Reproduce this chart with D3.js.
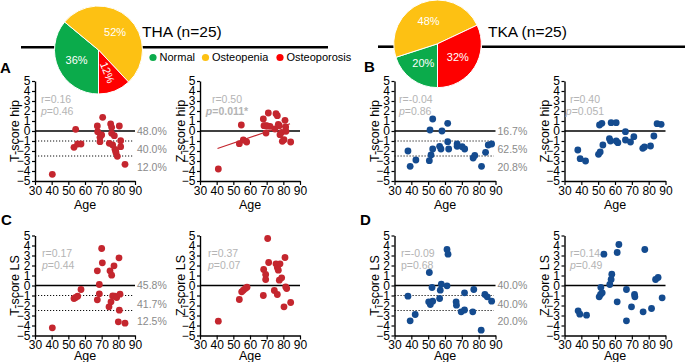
<!DOCTYPE html>
<html><head><meta charset="utf-8">
<script src="https://cdn.jsdelivr.net/npm/d3@7"></script>
<style>body{margin:0;background:#fff} text{font-family:"Liberation Sans",Arial,Helvetica,sans-serif}</style>
</head><body><svg id="c" width="685" height="362"></svg>
<script>
// ---------------- data ----------------
const pieCategories = ["Normal", "Osteopenia", "Osteoporosis"];
const thaPie = [36, 52, 12];
const tkaPie = [20, 48, 32];
const xTicks = [30, 40, 50, 60, 70, 80, 90];
const yTicks = [-5, -4, -3, -2, -1, 0, 1, 2, 3, 4, 5];

// A: THA hip
const thaHipTAge = [40.4,54.4,53.4,55.6,57.6,70.6,67.4,67.6,69,69,70,75.4,76,76,77.6,74.6,76.6,78,78.6,79.4,80.6,81.4,81.4,84,78.4];
const thaHipT    = [-4.33,0.17,-1.63,-1.3,-1.3,1.37,0.5,-0.07,-1.07,-0.63,-0.4,0.7,0.37,-0.23,-0.47,-1.23,-1.4,-1.83,-2.17,-2.53,0.5,-0.97,-1.57,-3.33,-2.0];
const thaHipZAge = [41,54.8,53.6,56,58,68,68.4,69.6,69.6,71,72,75.6,76.4,75,77,77.6,78,79,79.4,80.4,81,81.4,81.6,84.4,70.4];
const thaHipZ    = [-3.8,0.6,-1.27,-0.9,-1.1,1.2,0.53,0.53,-0.2,1.8,0.47,1.73,1.53,0.2,0.67,0.53,-0.37,-0.13,-1.03,-0.87,1.07,0.4,-0.03,-1.1,0.5];
const thaHipZRegAge = [40.5, 84];
const thaHipZRegVal = [-1.75, 0.72];
// C: THA lumbar spine
const thaLsTAge = [40.4,53.4,54.4,55.6,57.6,67.4,67.4,68.6,68.6,70,70.4,75,76,74.4,75.6,76.6,77.4,78,79,80.4,81,80.6,80,84];
const thaLsT    = [-4.23,-1.3,-1.2,-1.07,-0.4,1.47,-1.43,0.1,-0.83,3.7,2.27,1.47,1.03,-2.13,-1.63,-1.05,1.97,-1.07,-1.2,2.77,-0.87,-2.47,-3.63,-3.77];
const thaLsZAge = [41,53.6,55,56,57.2,58.2,68.2,68,69.4,69.4,70.6,71.2,75.6,76.4,77,78,77.6,79,74.6,76.4,80.4,81,81.4,82,84.4];
const thaLsZ    = [-3.57,-1.4,-0.63,-0.47,-0.3,-0.17,1.6,-1,1.1,0.6,4.7,2.3,2.17,1.8,1.53,2.17,0.53,0.77,-0.5,-0.9,-2.13,2.8,-0.13,-0.3,-1.7];
// B: TKA hip
const tkaHipTAge = [38,39.3,42.7,50.7,51.7,52.7,51.1,52.7,56.8,57.6,58.2,61.6,61.6,62.2,67.2,67.2,70.2,71.7,76.7,77.7,81.7,84.1,85.7,87.7];
const tkaHipT    = [-2,-3.53,-2.9,-2.97,-2.4,-1.8,0.1,1.2,-1.53,-1.8,0,0.77,-1.07,-1.8,-1.3,-1.53,-1.57,-1.8,-2.7,-2.45,-3.53,-2.13,-1.4,-1.3];
const tkaHipZAge = [37.9,39.3,42.5,50.2,51.2,52.8,50.8,52.2,57.7,56.7,57.3,60.7,60.7,61.7,66.2,66.2,69.2,71.2,76.5,77.5,81.1,83.1,85,87.4];
const tkaHipZ    = [-1.9,-2.77,-3,-2.33,-2.1,-1.4,0.6,0.77,0.83,-0.77,-1,0.83,-1,-1.17,-0.07,-0.9,-1.1,-0.57,-1.73,-1.6,-1.5,-0.5,0.73,0.67];
// D: TKA lumbar spine
const tkaLsTAge = [38,39.3,42.3,50.7,50.3,51.3,52.7,52.3,56.8,57.2,57.8,61.2,61.8,61.2,66.6,66.8,69.6,71.6,71.6,77.1,76.5,81.5,83.7,85.1,87.7];
const tkaLsT    = [-1.07,-3.53,-2.9,1.3,-1.63,-1.9,-1.57,-0.2,-1.3,-0.47,0.13,3.6,3.13,-0.03,-1.63,-1.97,-2.63,-2.45,-0.73,-0.4,-2.63,-4.47,-0.9,-1.13,-1.57];
const tkaLsZAge = [38.1,39.1,43.1,50.6,51.4,52.4,51.6,53.4,56.9,57.7,58.1,61.3,62.3,61.3,66.8,66.8,69.8,71.6,71.8,76.7,77.7,81.7,84.1,85.6,88];
const tkaLsZ    = [-2.53,-2.87,-2.97,-1.13,-0.9,-0.73,-0.2,3.13,0.1,0.6,1.13,3.3,4.1,-1.63,-0.4,-3.53,-2.13,-0.9,-1.13,-2.63,3.6,-2.3,0.6,0.8,-1.23];

const thaHipTPct = ["48.0%", "40.0%", "12.0%"];
const thaLsTPct  = ["45.8%", "41.7%", "12.5%"];
const tkaHipTPct = ["16.7%", "62.5%", "20.8%"];
const tkaLsTPct  = ["40.0%", "40.0%", "20.0%"];
const pctLevels = [0, -1.85, -3.6];
const thresholds = [-1, -2.5];

// ---------------- layout ----------------
const svg = d3.select("#c");
const pieColors = d3.scaleOrdinal().domain(pieCategories).range(["#0bab4b", "#fdc113", "#fe0000"]);
const RED = "#c4262e", BLUE = "#144b8f";
const FONT = '"Liberation Sans",Arial,sans-serif';

const rowA = {yT: 81, yB: 181, ageY: 209};
const rowC = {yT: 235.5, yB: 335.5, ageY: 359.5};
const panels = [
  {x0: 35,    x1: 135,   row: rowA, ages: thaHipTAge, vals: thaHipT, color: RED,  ylab: "T-score hip", labX: 15,  pct: thaHipTPct,
   r: "r=0.16", p: "p=0.46", statX: 41, anchor: "start"},
  {x0: 200,   x1: 300,   row: rowA, ages: thaHipZAge, vals: thaHipZ, color: RED,  ylab: "Z-score hip", labX: 181,
   r: "r=0.50", p: "p=0.011*", bold: true, statX: 227, anchor: "middle", reg: [thaHipZRegAge, thaHipZRegVal]},
  {x0: 394.5, x1: 495.5, row: rowA, ages: tkaHipTAge, vals: tkaHipT, color: BLUE, ylab: "T-score hip", labX: 375, pct: tkaHipTPct,
   r: "r=-0.04", p: "p=0.86", statX: 399, anchor: "start"},
  {x0: 564.5, x1: 665.5, row: rowA, ages: tkaHipZAge, vals: tkaHipZ, color: BLUE, ylab: "Z-score hip", labX: 545,
   r: "r=0.40", p: "p=0.051", statX: 585, anchor: "middle"},
  {x0: 35,    x1: 135,   row: rowC, ages: thaLsTAge, vals: thaLsT, color: RED,  ylab: "T-score LS", labX: 15, pct: thaLsTPct,
   r: "r=0.17", p: "p=0.44", statX: 42, anchor: "start"},
  {x0: 200,   x1: 300,   row: rowC, ages: thaLsZAge, vals: thaLsZ, color: RED,  ylab: "Z-score LS", labX: 181,
   r: "r=0.37", p: "p=0.07", statX: 208, anchor: "start"},
  {x0: 394.5, x1: 495.5, row: rowC, ages: tkaLsTAge, vals: tkaLsT, color: BLUE, ylab: "T-score LS", labX: 375, pct: tkaLsTPct,
   r: "r=-0.09", p: "p=0.68", upright: true, statX: 401, anchor: "start"},
  {x0: 564.5, x1: 665.5, row: rowC, ages: tkaLsZAge, vals: tkaLsZ, color: BLUE, ylab: "Z-score LS", labX: 545,
   r: "r=0.14", p: "p=0.49", statX: 570, anchor: "start"}
];

panels.forEach(P => {
  const x = d3.scaleLinear().domain([30, 90]).range([P.x0, P.x1]);
  const y = d3.scaleLinear().domain([-5, 5]).range([P.row.yB, P.row.yT]);
  const g = svg.append("g");

  // reference lines
  if (P.pct) {
    thresholds.forEach(t => {
      g.append("line").attr("x1", x(30)).attr("x2", x(89)).attr("y1", y(t)).attr("y2", y(t))
        .attr("stroke", "#111").attr("stroke-width", 1).attr("stroke-dasharray", "1.2,1.8");
    });
    g.selectAll(".pct").data(P.pct).enter().append("text")
      .attr("x", x(90) + 2).attr("y", (d, i) => y(pctLevels[i]))
      .attr("dy", "0.35em").attr("font-size", 10.5).attr("fill", "#8a8a8a").text(d => d);
  }
  g.append("line").attr("x1", x(30)).attr("x2", x(90)).attr("y1", y(0)).attr("y2", y(0))
    .attr("stroke", "#000").attr("stroke-width", 1.4);

  if (P.reg) {
    g.append("line").attr("x1", x(P.reg[0][0])).attr("x2", x(P.reg[0][1]))
      .attr("y1", y(P.reg[1][0])).attr("y2", y(P.reg[1][1]))
      .attr("stroke", RED).attr("stroke-width", 1.2);
  }

  // axes
  const ax = g.append("g").attr("transform", `translate(0,${P.row.yB})`)
    .call(d3.axisBottom(x).tickValues(xTicks).tickSize(4).tickSizeOuter(0).tickPadding(1));
  const ay = g.append("g").attr("transform", `translate(${P.x0},0)`)
    .call(d3.axisLeft(y).tickValues(yTicks).tickSize(3).tickSizeOuter(0).tickPadding(1.5));
  [ax, ay].forEach(a => {
    a.select(".domain").attr("stroke", "#000").attr("stroke-width", 1.4);
    a.selectAll(".tick line").attr("stroke", "#000").attr("stroke-width", 1.2);
    a.selectAll("text").attr("font-family", FONT).attr("font-size", 12).attr("fill", "#000");
  });

  // axis labels
  g.append("text").attr("transform", `translate(${P.labX + 4},${(P.row.yT + P.row.yB) / 2}) rotate(-90)`)
    .attr("text-anchor", "middle").attr("font-size", 12.5).text(P.ylab);
  g.append("text").attr("x", (P.x0 + P.x1) / 2).attr("y", P.row.ageY)
    .attr("text-anchor", "middle").attr("font-size", 12.5).text("Age");

  // stats
  g.append("text").attr("x", P.statX).attr("y", P.row.yT + 18).attr("dy", "0.35em")
    .attr("text-anchor", P.anchor).attr("font-size", 10.5).attr("fill", "#b4b4b4").text(P.r);
  const pt = g.append("text").attr("x", P.statX).attr("y", P.row.yT + 30).attr("dy", "0.35em")
    .attr("text-anchor", P.anchor).attr("font-size", 10.5).attr("fill", "#b4b4b4")
    .attr("font-weight", P.bold ? "bold" : null);
  pt.append("tspan").attr("font-style", P.upright ? null : "italic").text(P.p.slice(0, 1));
  pt.append("tspan").text(P.p.slice(1));

  // dots
  g.selectAll("circle").data(P.ages.map((a, i) => [a, P.vals[i]])).enter().append("circle")
    .attr("cx", d => x(d[0])).attr("cy", d => y(d[1])).attr("r", 3.4).attr("fill", P.color);
});

// ---------------- headers & pies ----------------
function header(cx, cy, R, vals, title, lineY, leftLine, rightLine, titleX) {
  svg.append("line").attr("x1", leftLine[0]).attr("x2", leftLine[1]).attr("y1", lineY).attr("y2", lineY)
    .attr("stroke", "#000").attr("stroke-width", 2.6);
  svg.append("line").attr("x1", rightLine[0]).attr("x2", rightLine[1]).attr("y1", lineY).attr("y2", lineY)
    .attr("stroke", "#000").attr("stroke-width", 2.6);
  svg.append("text").attr("x", titleX).attr("y", lineY - 10).attr("font-size", 15.5).text(title);

  const pie = d3.pie().sort(null).startAngle(Math.PI).endAngle(3 * Math.PI);
  const arcs = pie(vals);
  const arc = d3.arc().innerRadius(0).outerRadius(R);
  const lab = d3.arc().innerRadius(R * 0.55).outerRadius(R * 0.55);
  const g = svg.append("g").attr("transform", `translate(${cx},${cy})`);
  g.selectAll("path").data(arcs).enter().append("path")
    .attr("d", arc).attr("fill", (d, i) => pieColors(pieCategories[i]))
    .attr("stroke", "#fff").attr("stroke-width", 1);
  g.selectAll("text").data(arcs).enter().append("text")
    .attr("transform", d => {
      const c = lab.centroid(d);
      const mid = ((d.startAngle + d.endAngle) / 2) * 180 / Math.PI;
      return `translate(${c[0]},${c[1]})` + (d.data < 15 ? ` rotate(${mid - 90})` : "");
    })
    .attr("text-anchor", "middle").attr("dy", "0.35em").attr("font-size", 11).attr("fill", "#fff")
    .text(d => d.data + "%");
}
header(98.5, 50, 44, thaPie, "THA (n=25)", 47.3, [21, 56], [142, 328], 142);
header(437.5, 43.8, 43.8, tkaPie, "TKA (n=25)", 46.7, [378, 395], [482, 685], 488);

// legend
const leg = svg.append("g").attr("transform", "translate(153,57.5)");
const legX = [0, 52.5, 127];
pieCategories.forEach((c, i) => {
  leg.append("circle").attr("cx", legX[i]).attr("cy", 0).attr("r", 3.6).attr("fill", pieColors(c));
  leg.append("text").attr("x", legX[i] + 6.5).attr("y", 0).attr("dy", "0.35em").attr("font-size", 11).text(c);
});

// panel letters
[["A", 0, 73], ["B", 364, 72], ["C", 1, 225], ["D", 360, 225]].forEach(([t, xx, yy]) => {
  svg.append("text").attr("x", xx).attr("y", yy).attr("font-size", 15).attr("font-weight", "bold").text(t);
});
</script></body></html>
